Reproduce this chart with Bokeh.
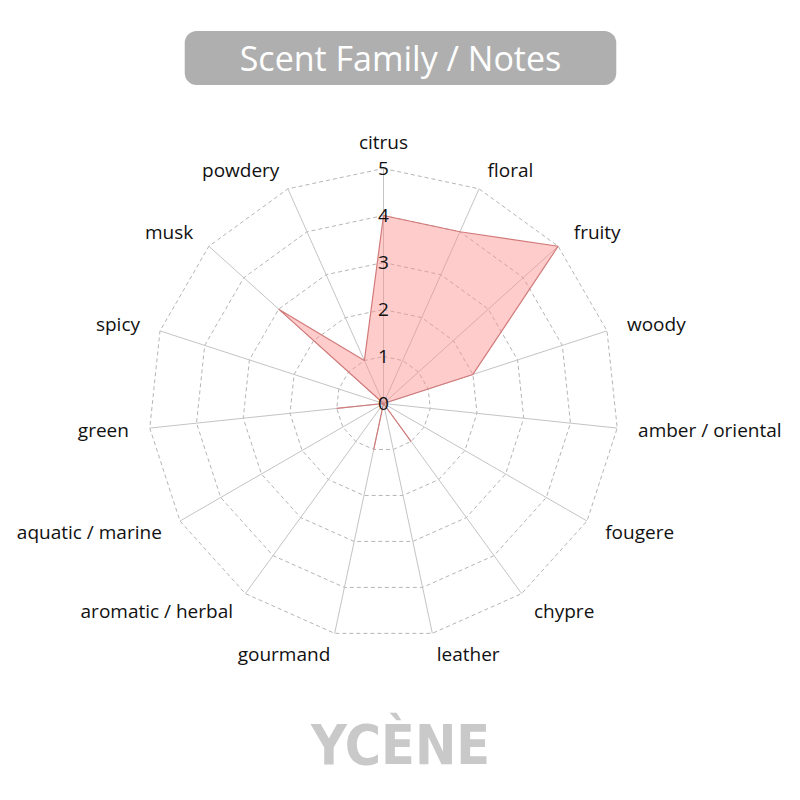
import numpy as np
from bokeh.plotting import figure
from bokeh.models import Range1d, Label, ColumnDataSource
from bokeh.core.properties import value
from bokeh.embed import file_html
from bokeh.resources import INLINE

categories = ["citrus", "floral", "fruity", "woody", "amber / oriental", "fougere",
              "chypre", "leather", "gourmand", "aromatic / herbal", "aquatic / marine",
              "green", "spicy", "musk", "powdery"]
scores = [4, 4, 5, 2, 0, 0, 1, 0, 1, 0, 0, 1, 0, 3, 1]
tick_values = [0, 1, 2, 3, 4, 5]
title_text = "Scent Family / Notes"
brand_text = "YCÈNE"

FONT = "Open Sans"
n = len(categories)
ang = np.arange(n) * 2 * np.pi / n  # clockwise from top
sx, cy = np.sin(ang), np.cos(ang)

# pixel mapping: centre at (383,403) in the picture, 47 px per unit
U = 47.0
CX, CY = 383, 403
W = H = 784
p = figure(width=W, height=H, output_backend="svg", toolbar_location=None,
           x_range=Range1d(-CX / U, (W - CX) / U), y_range=Range1d(-(H - CY) / U, CY / U),
           min_border=0, outline_line_color=None)
p.axis.visible = False
p.grid.visible = False
p.background_fill_color = "white"
p.border_fill_color = "white"

# rings
rmax = tick_values[-1]
ring_xs, ring_ys = [], []
for t in tick_values[1:]:
    ring_xs.append(list(np.append(t * sx, t * sx[0])))
    ring_ys.append(list(np.append(t * cy, t * cy[0])))
p.multi_line(ring_xs, ring_ys, line_color="#b5b5b5", line_width=1, line_dash="4 3")
# spokes
p.segment(x0=np.zeros(n), y0=np.zeros(n), x1=rmax * sx, y1=rmax * cy,
          line_color="#c4c4c4", line_width=1)

# data polygon
vals = np.array(scores, dtype=float)
p.patch(list(vals * sx), list(vals * cy), fill_color="#ff8f8f", fill_alpha=0.45,
        line_color="#d27a7a", line_width=1.2)

# category labels
lr = 256 / U
lx, ly = lr * sx, lr * cy
aligns = ["center" if abs(s) < 0.05 else ("left" if s > 0 else "right") for s in sx]
yoff = [-6 if abs(s) < 0.05 else 0 for s in sx]
src = ColumnDataSource(dict(x=lx, y=ly, t=categories, a=aligns, yo=yoff))
p.text(x="x", y="y", text="t", text_align="a", text_baseline="middle", y_offset="yo",
       text_font=value(FONT), text_font_size="19px", text_color="#111111", source=src)

# tick labels
p.text(x=[0] * len(tick_values), y=tick_values, text=[str(t) for t in tick_values],
       text_align="center", text_baseline="middle", text_font=value(FONT),
       text_font_size="19px", text_color="#111111")

# title box (centred on the page)
PX = (400 - CX) / U
title = Label(x=PX, y=(CY - 57.5) / U, x_units="data", y_units="data",
              text=title_text, text_align="center", text_baseline="middle",
              text_font=FONT, text_font_size="34px", text_color="white",
              background_fill_color="#afafaf", background_fill_alpha=1.0,
              padding=dict(left=55, right=55, top=4, bottom=4), border_radius=12)
p.add_layout(title)

# brand
brand = Label(x=PX, y=(CY - 744) / U, x_units="data", y_units="data",
              text=brand_text, text_align="center", text_baseline="middle",
              text_font="DejaVu Sans Condensed", text_font_style="bold",
              text_font_size="55px", text_color="#c9c9c9")
p.add_layout(brand)

open("out.html", "w").write(file_html(p, INLINE))
